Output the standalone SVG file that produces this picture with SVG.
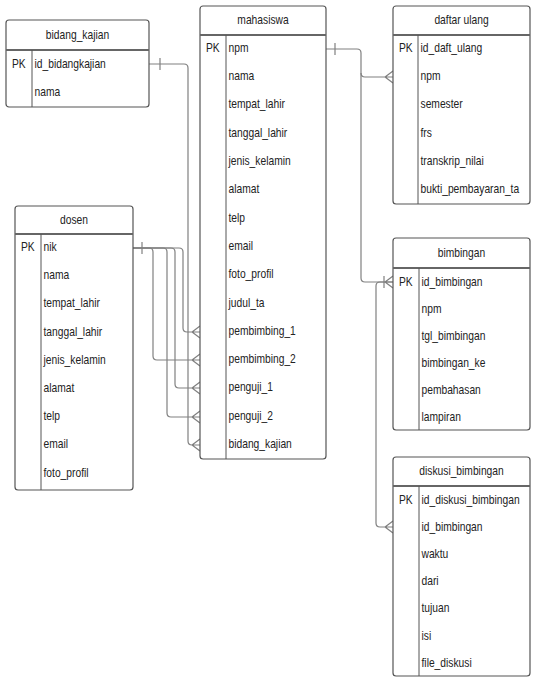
<svg xmlns="http://www.w3.org/2000/svg" width="533" height="686" viewBox="0 0 533 686">
<style>
.box{fill:#fff;stroke:#555;stroke-width:1.2}
.sep{stroke:#666;stroke-width:2.2}
.div{stroke:#555;stroke-width:1}
text{font-family:"Liberation Sans",Arial,sans-serif;font-size:13px;fill:#222}
.t{text-anchor:middle}
.c{fill:none;stroke:#808080;stroke-width:1.2}
</style>
<rect width="533" height="686" fill="#fff"/>
<g id="connectors">
<path class="c" d="M149,64 H184 Q188,64 188,68 V441 Q188,445 192,445 H200 M160,58 V70 M200,439 L192,445 L200,451"/>
<path class="c" d="M133,248 H179 Q183,248 183,252 V328 Q183,332 187,332 H200 M200,326 L192,332 L200,338"/>
<path class="c" d="M133,248 H149 Q153,248 153,252 V356 Q153,360 157,360 H200 M200,354 L192,360 L200,366"/>
<path class="c" d="M133,248 H171 Q175,248 175,252 V384 Q175,388 179,388 H200 M200,382 L192,388 L200,394"/>
<path class="c" d="M133,248 H163 Q167,248 167,252 V413 Q167,417 171,417 H200 M200,411 L192,417 L200,423"/>
<path class="c" d="M142,242 V254"/>
<path class="c" d="M326,49 H357 Q361,49 361,53 V73 Q361,77 365,77 H393 M393,71 L385,77 L393,83 M335,43 V55"/>
<path class="c" d="M361,73 V278 Q361,282 365,282 H393 M393,276 L385,282 L393,288"/>
<path class="c" d="M393,282 H380 Q376,282 376,286 V523 Q376,527 380,527 H393 M393,521 L385,527 L393,533 M384,276 V288"/>
</g>
<g id="bidang_kajian">
<rect class="box" x="6" y="20" width="143" height="87" rx="3"/>
<line class="sep" x1="6" y1="50" x2="149" y2="50"/>
<line class="div" x1="32" y1="50" x2="32" y2="107"/>
<g transform="translate(77.5 0) scale(0.79 1)"><text class="t" x="0" y="39">bidang_kajian</text></g>
<g transform="translate(12 0) scale(0.79 1)"><text x="0" y="68">PK</text></g>
<g transform="translate(34.5 0) scale(0.79 1)">
<text x="0" y="68">id_bidangkajian</text>
<text x="0" y="96">nama</text>
</g>
</g>
<g id="mahasiswa">
<rect class="box" x="200" y="6" width="126" height="453" rx="3"/>
<line class="sep" x1="200" y1="35" x2="326" y2="35"/>
<line class="div" x1="226" y1="35" x2="226" y2="459"/>
<g transform="translate(263 0) scale(0.79 1)"><text class="t" x="0" y="24">mahasiswa</text></g>
<g transform="translate(206 0) scale(0.79 1)"><text x="0" y="52">PK</text></g>
<g transform="translate(228.5 0) scale(0.79 1)">
<text x="0" y="52">npm</text>
<text x="0" y="80">nama</text>
<text x="0" y="108">tempat_lahir</text>
<text x="0" y="137">tanggal_lahir</text>
<text x="0" y="165">jenis_kelamin</text>
<text x="0" y="193">alamat</text>
<text x="0" y="222">telp</text>
<text x="0" y="250">email</text>
<text x="0" y="278">foto_profil</text>
<text x="0" y="307">judul_ta</text>
<text x="0" y="335">pembimbing_1</text>
<text x="0" y="363">pembimbing_2</text>
<text x="0" y="391">penguji_1</text>
<text x="0" y="420">penguji_2</text>
<text x="0" y="448">bidang_kajian</text>
</g>
</g>
<g id="daftar_ulang">
<rect class="box" x="393" y="6" width="137" height="198" rx="3"/>
<line class="sep" x1="393" y1="35" x2="530" y2="35"/>
<line class="div" x1="418" y1="35" x2="418" y2="204"/>
<g transform="translate(461.5 0) scale(0.79 1)"><text class="t" x="0" y="24">daftar ulang</text></g>
<g transform="translate(399 0) scale(0.79 1)"><text x="0" y="52">PK</text></g>
<g transform="translate(420.5 0) scale(0.79 1)">
<text x="0" y="52">id_daft_ulang</text>
<text x="0" y="80">npm</text>
<text x="0" y="108">semester</text>
<text x="0" y="137">frs</text>
<text x="0" y="165">transkrip_nilai</text>
<text x="0" y="193">bukti_pembayaran_ta</text>
</g>
</g>
<g id="dosen">
<rect class="box" x="15" y="206" width="118" height="284" rx="3"/>
<line class="sep" x1="15" y1="234" x2="133" y2="234"/>
<line class="div" x1="41" y1="234" x2="41" y2="490"/>
<g transform="translate(74 0) scale(0.79 1)"><text class="t" x="0" y="224">dosen</text></g>
<g transform="translate(21 0) scale(0.79 1)"><text x="0" y="251">PK</text></g>
<g transform="translate(43.5 0) scale(0.79 1)">
<text x="0" y="251">nik</text>
<text x="0" y="279">nama</text>
<text x="0" y="307">tempat_lahir</text>
<text x="0" y="336">tanggal_lahir</text>
<text x="0" y="364">jenis_kelamin</text>
<text x="0" y="392">alamat</text>
<text x="0" y="420">telp</text>
<text x="0" y="448">email</text>
<text x="0" y="477">foto_profil</text>
</g>
</g>
<g id="bimbingan">
<rect class="box" x="393" y="238" width="137" height="192" rx="3"/>
<line class="sep" x1="393" y1="268" x2="530" y2="268"/>
<line class="div" x1="419" y1="268" x2="419" y2="430"/>
<g transform="translate(461.5 0) scale(0.79 1)"><text class="t" x="0" y="257">bimbingan</text></g>
<g transform="translate(399 0) scale(0.79 1)"><text x="0" y="286">PK</text></g>
<g transform="translate(421.5 0) scale(0.79 1)">
<text x="0" y="286">id_bimbingan</text>
<text x="0" y="313">npm</text>
<text x="0" y="340">tgl_bimbingan</text>
<text x="0" y="367">bimbingan_ke</text>
<text x="0" y="394">pembahasan</text>
<text x="0" y="421">lampiran</text>
</g>
</g>
<g id="diskusi_bimbingan">
<rect class="box" x="393" y="457" width="137" height="219" rx="3"/>
<line class="sep" x1="393" y1="486" x2="530" y2="486"/>
<line class="div" x1="419" y1="486" x2="419" y2="676"/>
<g transform="translate(461.5 0) scale(0.79 1)"><text class="t" x="0" y="475">diskusi_bimbingan</text></g>
<g transform="translate(399 0) scale(0.79 1)"><text x="0" y="504">PK</text></g>
<g transform="translate(421.5 0) scale(0.79 1)">
<text x="0" y="504">id_diskusi_bimbingan</text>
<text x="0" y="531">id_bimbingan</text>
<text x="0" y="558">waktu</text>
<text x="0" y="585">dari</text>
<text x="0" y="612">tujuan</text>
<text x="0" y="640">isi</text>
<text x="0" y="667">file_diskusi</text>
</g>
</g>
</svg>
